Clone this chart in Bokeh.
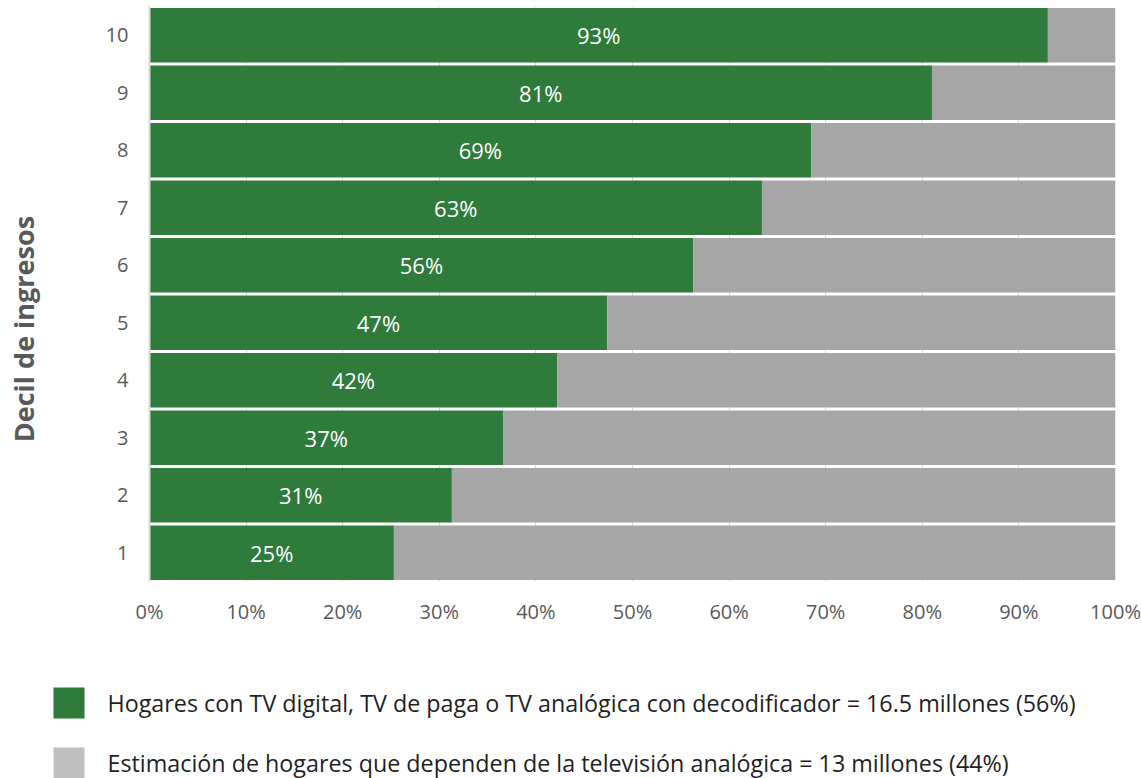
from bokeh.plotting import figure
from bokeh.models import (ColumnDataSource, FixedTicker, PrintfTickFormatter, Range1d)
from bokeh.layouts import column
from bokeh.core.properties import value
from bokeh.embed import file_html
from bokeh.resources import INLINE

# ---- data ----
deciles = [1, 2, 3, 4, 5, 6, 7, 8, 9, 10]
digital_pct = [25.3, 31.3, 36.6, 42.2, 47.4, 56.3, 63.4, 68.5, 81.0, 93.0]
labels = ["25%", "31%", "37%", "42%", "47%", "56%", "63%", "69%", "81%", "93%"]
x_ticks = [0, 10, 20, 30, 40, 50, 60, 70, 80, 90, 100]
legend_labels = [
    "Hogares con TV digital, TV de paga o TV analógica con decodificador = 16.5 millones (56%)",
    "Estimación de hogares que dependen de la televisión analógica = 13 millones (44%)",
]
y_title = "Decil de ingresos"

GREEN = "#2e7b3b"
GRAY = "#a6a6a6"
GRAY_LEG = "#bfbfbf"
FONT = "Open Sans"

rest_end = [100] * len(deciles)
mid = [v / 2 for v in digital_pct]
src = ColumnDataSource(dict(y=deciles, d=digital_pct, mid=mid, lab=labels, full=rest_end))

MAIN_H = 648
p = figure(width=1141, height=MAIN_H, output_backend="svg", toolbar_location=None,
           x_range=Range1d(0, 100), y_range=Range1d(0.5, 10.5),
           min_border_left=149, min_border_right=26, min_border_top=6,
           min_border_bottom=MAIN_H - 581)
p.outline_line_color = None
p.background_fill_color = "white"

p.hbar(y="y", left=0, right="d", height=0.95, fill_color=GREEN, line_color=None, source=src)
p.hbar(y="y", left="d", right="full", height=0.95, fill_color=GRAY, line_color=None, source=src)
p.text(x="mid", y="y", text="lab", source=src, text_color="white", text_font=value(FONT),
       text_font_size="22px", text_align="center", text_baseline="middle")

# grids
p.ygrid.visible = False
p.xgrid.ticker = FixedTicker(ticks=x_ticks)
p.xgrid.grid_line_color = "#d9d9d9"
p.xgrid.grid_line_width = 1
p.xgrid.level = "underlay"

# x axis
p.xaxis.ticker = FixedTicker(ticks=x_ticks)
p.xaxis.formatter = PrintfTickFormatter(format="%d%%")
p.xaxis.axis_line_color = None
p.xaxis.major_tick_line_color = None
p.xaxis.minor_tick_line_color = None
p.xaxis.major_tick_out = 0
p.xaxis.major_label_text_font = FONT
p.xaxis.major_label_text_font_size = "20px"
p.xaxis.major_label_text_color = "#595959"
p.xaxis.major_label_standoff = 16

# y axis
p.yaxis.ticker = FixedTicker(ticks=deciles)
p.yaxis.axis_line_color = "#d9d9d9"
p.yaxis.axis_line_width = 2
p.yaxis.major_tick_line_color = None
p.yaxis.minor_tick_line_color = None
p.yaxis.major_tick_out = 0
p.yaxis.major_tick_in = 0
p.yaxis.major_label_text_font = FONT
p.yaxis.major_label_text_font_size = "20px"
p.yaxis.major_label_text_color = "#595959"
p.yaxis.major_label_standoff = 21
# trailing no-break spaces shift the centred title down, as in the reference
p.yaxis.axis_label = y_title + "\u00a0" * 10
p.yaxis.axis_label_text_font = FONT
p.yaxis.axis_label_text_font_size = "27px"
p.yaxis.axis_label_text_font_style = "bold"
p.yaxis.axis_label_text_color = "#595959"
p.yaxis.axis_label_standoff = 61

# legend drawn in a pixel-unit figure below the chart
LH = 778 - MAIN_H
leg = figure(width=1141, height=LH, output_backend="svg", toolbar_location=None,
             x_range=Range1d(0, 1141), y_range=Range1d(LH, 0),
             min_border_left=0, min_border_right=0, min_border_top=0, min_border_bottom=0)
if "frame_align" in leg.properties():
    leg.frame_align = False
leg.axis.visible = False
leg.grid.visible = False
leg.outline_line_color = None
y0 = 687 - MAIN_H
leg_src = ColumnDataSource(dict(x=[68.5, 68.5], y=[y0 + 15.5, y0 + 75.5], c=[GREEN, GRAY_LEG],
                                tx=[107, 107], lab=legend_labels))
leg.rect(x="x", y="y", width=31, height=31, fill_color="c", line_color=None, source=leg_src)
leg.text(x="tx", y="y", text="lab", source=leg_src, text_color="#1f1f1f", text_font=value(FONT),
         text_font_size="23.3px", text_align="left", text_baseline="middle")

layout = column(p, leg, spacing=0)
open("out.html", "w").write(file_html(layout, INLINE))
